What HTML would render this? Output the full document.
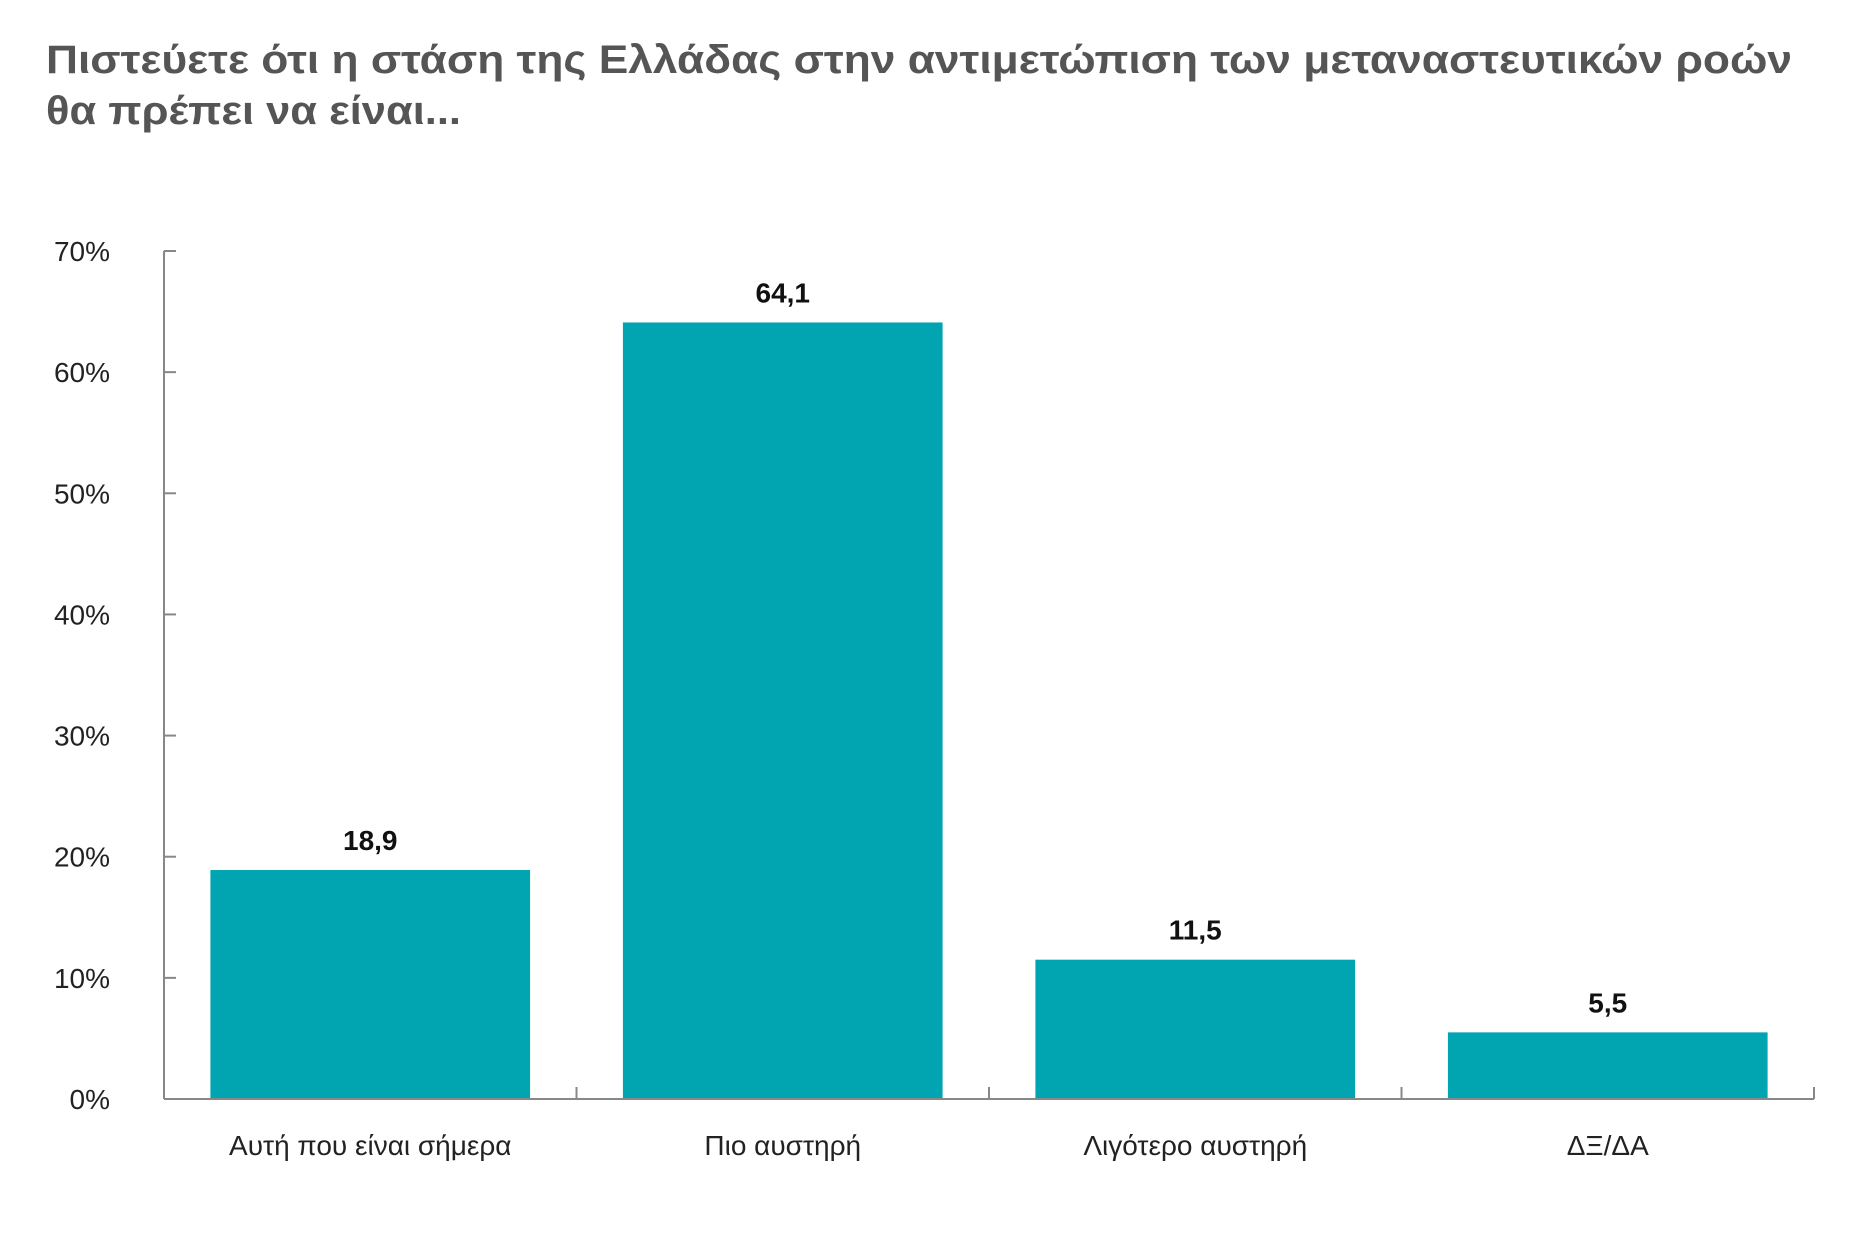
<!DOCTYPE html>
<html><head><meta charset="utf-8"><style>
html,body{margin:0;padding:0;background:#fff;width:1867px;height:1243px;overflow:hidden}
svg{display:block;font-family:"Liberation Sans","DejaVu Sans",sans-serif}
</style></head><body>
<svg id="chart" width="1867" height="1243" viewBox="0 0 1867 1243">
<text x="46" y="73" font-size="40" font-weight="bold" fill="#555" textLength="1746" lengthAdjust="spacingAndGlyphs">Πιστεύετε ότι η στάση της Ελλάδας στην αντιμετώπιση των μεταναστευτικών ροών</text>
<text x="46" y="124" font-size="40" font-weight="bold" fill="#555" textLength="415" lengthAdjust="spacingAndGlyphs">θα πρέπει να είναι...</text>
<g id="plot"></g>
</svg>
<script>
const categories = ["Αυτή που είναι σήμερα","Πιο αυστηρή","Λιγότερο αυστηρή","ΔΞ/ΔΑ"];
const values = [18.9, 64.1, 11.5, 5.5];
const valueLabels = ["18,9","64,1","11,5","5,5"];
const yTicks = [0,10,20,30,40,50,60,70];

const NS="http://www.w3.org/2000/svg";
const g=document.getElementById('plot');
const x0=164, x1=1814, y0=1099, yTop=251, yMax=70;
const y=v=>y0-(v/yMax)*(y0-yTop);
const bandW=(x1-x0)/categories.length;
const xc=i=>x0+bandW*(i+0.5);
function mk(tag,attrs){const e=document.createElementNS(NS,tag);for(const k in attrs)e.setAttribute(k,attrs[k]);g.appendChild(e);return e;}

yTicks.forEach(t=>{
  const tk=mk('line',{x1:x0,x2:x0+12,y1:y(t),y2:y(t),stroke:'#888','stroke-width':2});
  
  
  const lb=mk('text',{x:110,y:y(t)+10,'font-size':28,'text-anchor':'end',fill:'#222'});
  lb.textContent=t+'%';
  
  
});
const ya=mk('line',{x1:x0,x2:x0,y1:yTop,y2:y0,stroke:'#888','stroke-width':2});



categories.forEach((c,i)=>{
  const bw=bandW*0.775;
  const r=mk('rect',{x:xc(i)-bw/2,y:y(values[i]),width:bw,height:y0-y(values[i]),fill:'#00A5B1'});
  
  
  const v=mk('text',{x:xc(i),y:y(values[i])-20,'font-size':28,'font-weight':'bold','text-anchor':'middle',fill:'#111'});
  v.textContent=valueLabels[i];
  
  
  const cl=mk('text',{x:xc(i),y:1155,'font-size':28,'text-anchor':'middle',fill:'#222'});
  cl.textContent=c;
  
  
});
for(let i=1;i<=categories.length;i++){
  const sx=x0+bandW*i;
  const s=mk('line',{x1:sx,x2:sx,y1:y0,y2:y0-12,stroke:'#888','stroke-width':2});
  
  
}
const xa=mk('line',{x1:x0,x2:x1,y1:y0,y2:y0,stroke:'#888','stroke-width':2});


</script>
</body></html>
